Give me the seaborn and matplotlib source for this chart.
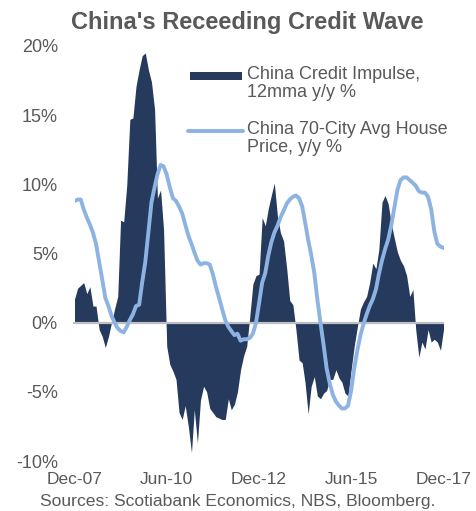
import pandas as pd
import seaborn as sns
import matplotlib.pyplot as plt
from matplotlib.patches import Rectangle
from matplotlib.lines import Line2D

# Monthly data, Dec-2007 .. Dec-2017
credit_impulse = [
    1.7, 2.5, 2.7, 2.9, 2.1, 2.6, 1.2, 1.2, -0.5, -1.0, -1.8, -1.0,
    0.0, 1.0, 1.9, 7.4, 7.3, 9.9, 14.7, 14.8, 17.1, 18.3, 19.3, 19.5,
    18.3, 17.4, 15.4, 9.0, 9.6, 6.7, -1.7, -3.0, -3.5, -4.1, -6.5, -7.0,
    -6.0, -7.5, -9.4, -6.3, -8.7, -5.6, -4.6, -5.0, -6.2, -6.5, -6.8, -6.9,
    -7.0, -7.0, -5.5, -6.3, -5.9, -5.0, -3.4, -2.4, -1.7, 0.5, 2.8, 3.4,
    3.5, 7.6, 7.0, 8.2, 9.2, 10.1, 7.7, 6.5, 5.9, 3.9, 1.6, 1.3,
    -0.5, -2.7, -2.9, -4.3, -6.6, -4.6, -3.9, -5.3, -5.5, -5.1, -4.9, -4.1,
    -4.1, -3.4, -4.0, -4.3, -5.1, -5.3, -3.4, -1.7, -0.3, 1.0, 1.5, 1.9,
    2.9, 4.3, 3.9, 5.3, 8.7, 9.2, 8.6, 7.2, 6.1, 5.1, 4.5, 4.1,
    3.4, 1.9, 2.4, -0.5, -2.5, -1.4, -1.9, -0.5, -1.4, -1.2, -1.4, -2.0,
    -0.5,
]
house_price = [
    8.8, 8.9, 8.9, 8.2, 7.6, 7.1, 6.5, 5.7, 4.4, 3.1, 1.8, 1.2,
    0.5, 0.0, -0.4, -0.6, -0.7, -0.3, 0.2, 0.6, 1.2, 1.3, 2.9, 4.4,
    6.5, 8.7, 9.8, 10.7, 11.4, 11.3, 10.7, 9.8, 9.0, 8.8, 8.4, 7.9,
    7.1, 6.3, 5.7, 5.1, 4.5, 4.2, 4.3, 4.3, 4.2, 3.5, 2.6, 1.8,
    1.0, 0.2, -0.3, -0.6, -0.9, -0.8, -1.3, -1.2, -1.2, -1.1, -0.8, 0.0,
    1.4, 2.9, 3.6, 4.8, 5.8, 6.5, 7.0, 7.6, 8.1, 8.6, 8.9, 9.1,
    9.2, 9.0, 8.4, 7.3, 6.0, 4.9, 3.6, 1.7, 0.0, -1.6, -3.3, -4.4,
    -5.2, -5.7, -6.0, -6.2, -6.2, -6.0, -4.9, -3.3, -2.0, -0.9, -0.1, 0.6,
    1.2, 1.7, 2.4, 3.5, 4.5, 5.3, 6.0, 7.0, 8.3, 9.6, 10.3, 10.5,
    10.5, 10.3, 10.1, 9.9, 9.5, 9.4, 9.4, 9.1, 8.2, 6.6, 5.7, 5.5,
    5.4,
]
months = pd.date_range('2007-12-01', periods=len(credit_impulse), freq='MS')

tick_idx = [0, 30, 60, 90, 120]
tick_labels = ['Dec-07', 'Jun-10', 'Dec-12', 'Jun-15', 'Dec-17']
y_ticks = [-10, -5, 0, 5, 10, 15, 20]
y_labels = ['-10%', '-5%', '0%', '5%', '10%', '15%', '20%']

label_credit = 'China Credit Impulse,\n12mma y/y %'
label_house = 'China 70-City Avg House\nPrice, y/y %'

navy = '#263A5E'
light_blue = '#8DB3E2'
grey_text = '#595959'
axis_grey = '#BFBFBF'

df = pd.DataFrame({'month': months, 'credit': credit_impulse, 'house': house_price})

sns.set_style('white')
plt.rcParams['font.family'] = ['Liberation Sans', 'DejaVu Sans']

W, H = 476, 511
fig = plt.figure(figsize=(W / 100, H / 100), dpi=100)
ax = fig.add_axes([74.5 / W, 1 - 461 / H, (443.5 - 74.5) / W, (461 - 46) / H])

ax.fill_between(df['month'], 0, df['credit'], color=navy, linewidth=0, zorder=1)
sns.lineplot(data=df, x='month', y='house', color=light_blue, linewidth=2.8, ax=ax, zorder=3)

ax.set_xlim(months[0], months[-1])
ax.set_ylim(-10, 20)
ax.set_xlabel('')
ax.set_ylabel('')

# zero line with small tick marks
for s in ['top', 'right', 'left']:
    ax.spines[s].set_visible(False)
ax.spines['bottom'].set_position(('data', 0))
ax.spines['bottom'].set_color(axis_grey)
ax.spines['bottom'].set_linewidth(1.6)
ax.spines['bottom'].set_zorder(2)
ax.set_xticks([months[i] for i in tick_idx])
ax.tick_params(axis='x', direction='out', length=4, width=1.2, color=axis_grey, labelbottom=False)

ax.set_yticks(y_ticks)
ax.set_yticklabels(y_labels)
ax.tick_params(axis='y', length=0, pad=12, labelsize=13, labelcolor=grey_text)

# category labels along the bottom
sec = ax.secondary_xaxis('bottom')
sec.set_xticks([months[i] for i in tick_idx])
sec.set_xticklabels(tick_labels)
sec.tick_params(length=0, pad=8, labelsize=12.5, labelcolor=grey_text)
sec.spines['bottom'].set_visible(False)

# legend drawn by hand so the keys sit on the first text line
fig.patches.append(Rectangle((190 / W, 1 - 80 / H), 52 / W, 8 / H, transform=fig.transFigure,
                             facecolor=navy, edgecolor='none'))
fig.lines.append(Line2D([188 / W, 243 / W], [1 - 131 / H, 1 - 131 / H], transform=fig.transFigure,
                        color=light_blue, linewidth=2.8))
fig.text(247 / W, 1 - 66 / H, label_credit, fontsize=13, color=grey_text, va='top', linespacing=1.1)
fig.text(247 / W, 1 - 121 / H, label_house, fontsize=13, color=grey_text, va='top', linespacing=1.1)

fig.text(247 / W, 1 - 22 / H, "China's Receeding Credit Wave", fontsize=17, fontweight='bold',
         color=grey_text, ha='center', va='center')
fig.text(238 / W, 1 - 501.5 / H, 'Sources: Scotiabank Economics, NBS, Bloomberg.', fontsize=12.6,
         color=grey_text, ha='center', va='center')

fig.savefig('out.png', dpi=100)
